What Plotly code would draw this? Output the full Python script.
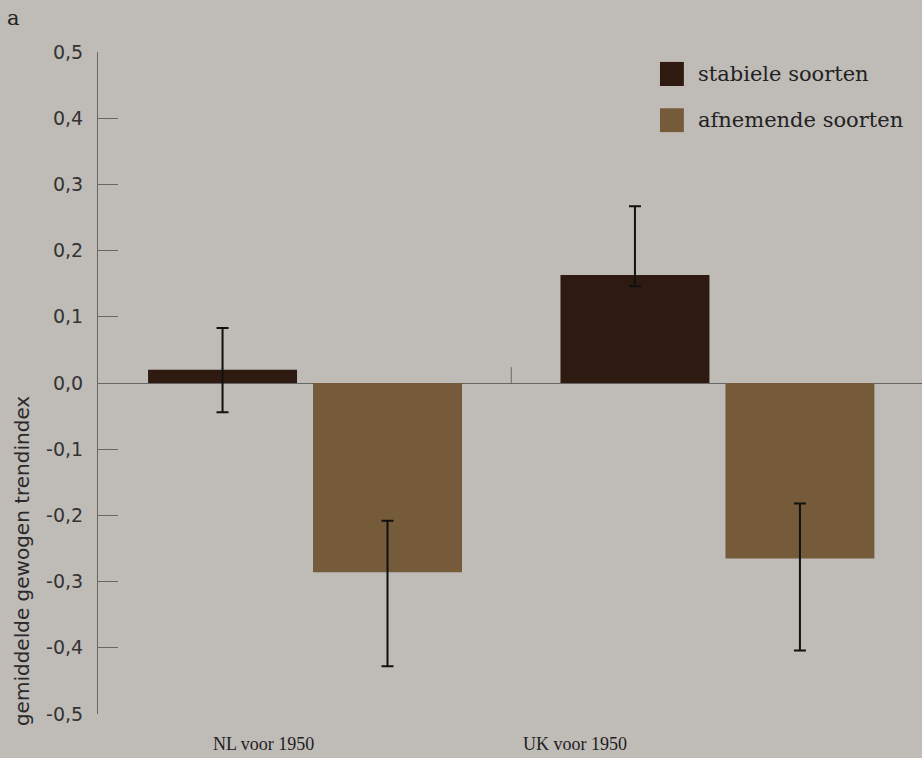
import plotly.graph_objects as go

categories = ["NL voor 1950", "UK voor 1950"]
series_names = ["stabiele soorten", "afnemende soorten"]
stabiel = [0.020, 0.163]
stabiel_plus = [0.063, 0.104]
stabiel_minus = [0.064, 0.017]
afnemend = [-0.286, -0.265]
afnemend_plus = [0.078, 0.083]
afnemend_minus = [0.142, 0.139]
y_tickvals = [-0.5, -0.4, -0.3, -0.2, -0.1, 0.0, 0.1, 0.2, 0.3, 0.4, 0.5]
y_ticktext = ["-0,5", "-0,4", "-0,3", "-0,2", "-0,1", "0,0", "0,1", "0,2", "0,3", "0,4", "0,5"]
y_title = "gemiddelde gewogen trendindex"
panel_label = "a"

BG = "#bfbbb7"
C_STAB = "#2e1a10"
C_AFN = "#765b3b"
AXC = "#666666"

fig = go.Figure()
fig.add_trace(go.Bar(
    x=categories, y=stabiel, name=series_names[0], marker=dict(color=C_STAB, line=dict(width=0)),
    error_y=dict(type="data", symmetric=False, array=stabiel_plus, arrayminus=stabiel_minus,
                 color="#111111", thickness=2, width=6),
    showlegend=False,
))
fig.add_trace(go.Bar(
    x=categories, y=afnemend, name=series_names[1], marker=dict(color=C_AFN, line=dict(width=0)),
    error_y=dict(type="data", symmetric=False, array=afnemend_plus, arrayminus=afnemend_minus,
                 color="#111111", thickness=2, width=6),
    showlegend=False,
))

fig.update_layout(
    width=922, height=758,
    margin=dict(l=98, r=0, t=52, b=44),
    paper_bgcolor=BG, plot_bgcolor=BG,
    barmode="group", bargap=0.2, bargroupgap=0.097,
    showlegend=False,
)
fig.update_xaxes(range=[-0.502, 1.496], showticklabels=False, showline=False, ticks="",
                 showgrid=False, zeroline=False)
fig.update_yaxes(range=[-0.5, 0.5], tickvals=y_tickvals, ticktext=y_ticktext,
                 ticks="inside", ticklen=20, tickcolor=AXC, tickwidth=1,
                 showline=True, linecolor=AXC, linewidth=1,
                 showgrid=False, zeroline=True, zerolinecolor=AXC, zerolinewidth=1,
                 tickfont=dict(family="DejaVu Sans", size=19, color="#333333"),
                 ticklabelstandoff=10)

# category divider tick on zero line
fig.add_shape(type="line", xref="x", yref="y", x0=0.5, x1=0.5, y0=0, y1=0.024,
              line=dict(color=AXC, width=1))

# y title
fig.add_annotation(text=y_title, xref="paper", yref="paper", x=-0.0922, y=0.231,
                   textangle=-90, showarrow=False, xanchor="center", yanchor="middle",
                   font=dict(family="DejaVu Sans", size=20, color="#2a2a2a"))
# panel label
fig.add_annotation(text=panel_label, xref="paper", yref="paper", x=-0.102, y=1.051,
                   showarrow=False, xanchor="center", yanchor="middle",
                   font=dict(family="DejaVu Serif", size=21, color="#222222"))
# x category labels
for xi, lab in zip([-0.100, 0.654], categories):
    fig.add_annotation(text=lab, xref="x", yref="paper", x=xi, y=-0.046,
                       showarrow=False, xanchor="center", yanchor="middle",
                       font=dict(family="Liberation Serif", size=18, color="#1e1e1e"))

# legend
leg_colors = [C_STAB, C_AFN]
leg_y = [(0.9486, 0.985, 0.967), (0.879, 0.915, 0.897)]
for (y0, y1, yc), name, col in zip(leg_y, series_names, leg_colors):
    fig.add_shape(type="rect", xref="paper", yref="paper", x0=0.682, x1=0.711, y0=y0, y1=y1,
                  fillcolor=col, line=dict(width=0))
    fig.add_annotation(text=name, xref="paper", yref="paper", x=0.7257, y=yc,
                       showarrow=False, xanchor="left", yanchor="middle",
                       font=dict(family="DejaVu Serif", size=21, color="#222222"))

fig.write_html("out.html", config={"displayModeBar": False},
               post_script="document.body.style.margin='0';document.body.style.overflow='hidden';")
